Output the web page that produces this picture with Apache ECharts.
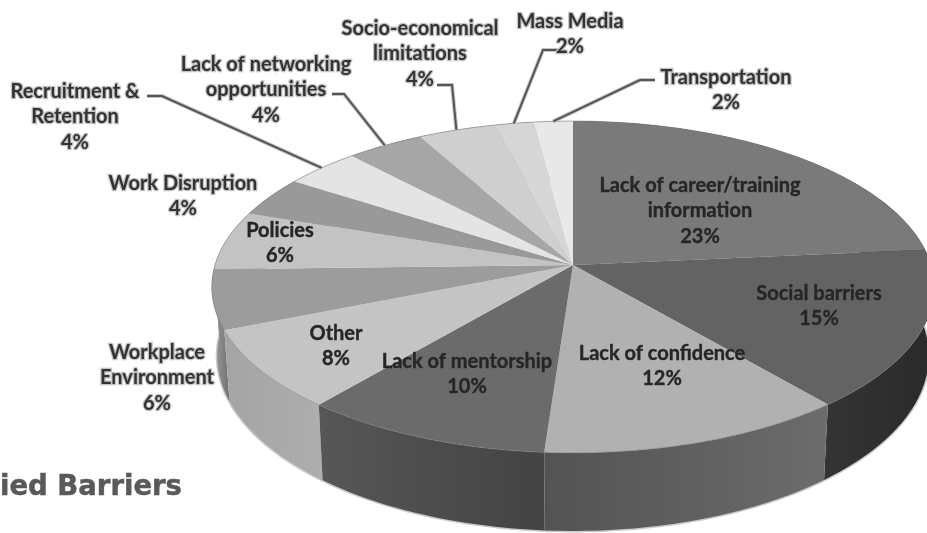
<!DOCTYPE html>
<html>
<head>
<meta charset="utf-8">
<style>html,body{margin:0;padding:0;background:#fff}#chart{width:927px;height:533px}</style>
<script src="https://cdn.jsdelivr.net/npm/echarts@6/dist/echarts.min.js"></script>
</head>
<body>
<div id="chart"></div>
<script>
// Slices clockwise from twelve o'clock
const categories = ['Lack of career/training\ninformation', 'Social barriers', 'Lack of confidence',
  'Lack of mentorship', 'Other', 'Workplace\nEnvironment', 'Policies', 'Work Disruption',
  'Recruitment &\nRetention', 'Lack of networking\nopportunities', 'Socio-economical\nlimitations',
  'Mass Media', 'Transportation'];
const percents = [23, 15, 12, 10, 8, 6, 6, 4, 4, 4, 4, 2, 2];

// Greys for the upper face and for the rim (left to right along the rim)
const faceGreys = ['#7a7a7a', '#636363', '#b1b1b1', '#6b6b6b', '#c4c4c4', '#9c9c9c', '#c3c3c3',
  '#999999', '#e4e4e4', '#a6a6a6', '#cfcfcf', '#d6d6d6', '#e8e8e8'];
const wallGreys = [['#3a3a3a', '#3a3a3a'], ['#2a2a2a', '#343434'], ['#6c6c6c', '#535353'],
  ['#575757', '#434343'], ['#a4a4a4', '#aeaeae'], ['#a0a0a0', '#707070'], ['#909090', '#909090'],
  ['#888888', '#888888'], ['#999999', '#999999'], ['#888888', '#888888'], ['#999999', '#999999'],
  ['#999999', '#999999'], ['#999999', '#999999']];

// Label placement: centre of each text block, dark text inside the pie, halo outside
const labelX = [700, 819, 662, 467, 336, 157, 280, 183, 75, 266, 420, 570, 726];
const labelY = [211, 306, 366, 374, 346, 378, 243, 196, 117, 90, 54, 34, 90];
const labelInside = [true, true, true, true, true, false, true, false, false, false, false, false, false];

// Leader lines: slice index, then label end and elbow
const leaderIndex = [8, 9, 10, 11, 12];
const leaderStart = [[147, 96], [332, 94], [437, 85], [558, 50], [655, 80]];
const leaderElbow = [[162, 96], [344, 94], [452, 85], [543, 50], [640, 80]];

// Perspective view of the disc
const CX = 573, CY = 265, RX = 358, RY = 163, PERSP = 0.1325, DEPTH = 67.7, BASE_NARROW = 0.985;
const total = percents.reduce((a, b) => a + b, 0);
const cumulative = percents.reduce((acc, v) => { acc.push(acc[acc.length - 1] + v); return acc; }, [0]);
const angleOf = p => p / total * 2 * Math.PI;

// Map a clock angle to the screen; `low` gives the lower rim
function project(theta, low) {
  const t = theta + (2 * Math.PI / 180) * (1 - Math.cos(theta));
  const u = Math.sin(t), v = Math.cos(t), w = 1 + PERSP * v;
  const x = RX * u / w, y = -RY * v / w;
  return low ? [CX + x * BASE_NARROW, CY + y + DEPTH / w] : [CX + x, CY + y];
}
function arc(a0, a1, low) {
  const n = Math.max(2, Math.ceil((a1 - a0) / 0.02));
  const pts = [];
  for (let k = 0; k <= n; k++) pts.push(project(a0 + (a1 - a0) * k / n, low));
  return pts;
}

const sliceData = percents.map((v, i) => [i, v]);

const renderWall = (params, api) => {
  const i = api.value(0);
  const a0 = angleOf(cumulative[i]), a1 = angleOf(cumulative[i + 1]);
  const upper = arc(a0, a1, false), lower = arc(a0, a1, true);
  const mid = (a0 + a1) / 2;
  const fore = -Math.cos(mid);
  const sunny = Math.sin(mid) < 0;
  const g = wallGreys[i];
  const stops = [{ offset: 0, color: g[sunny ? 0 : 1] }, { offset: 1, color: g[sunny ? 1 : 0] }];
  return {
    type: 'group',
    children: [
      { type: 'polyline', z2: 0, shape: { points: lower }, style: { fill: null, stroke: '#c9c9c9', lineWidth: 3 } },
      {
        type: 'polygon', z2: 10 + Math.round(fore * 10),
        shape: { points: upper.concat(lower.slice().reverse()) },
        style: { fill: new echarts.graphic.LinearGradient(0, 0, 1, 0, stops) }
      }
    ]
  };
};

const renderFace = (params, api) => {
  const i = api.value(0);
  const a0 = angleOf(cumulative[i]), a1 = angleOf(cumulative[i + 1]);
  const rim = arc(a0, a1, false);
  return {
    type: 'group',
    children: [
      { type: 'polygon', shape: { points: [[CX, CY]].concat(rim) }, style: { fill: faceGreys[i] } },
      { type: 'polyline', shape: { points: rim }, style: { fill: null, stroke: 'rgba(120,120,120,0.55)', lineWidth: 1 } }
    ]
  };
};

const renderLeader = (params, api) => {
  const n = api.value(0);
  const i = leaderIndex[n];
  const end = project(angleOf((cumulative[i] + cumulative[i + 1]) / 2), false);
  const points = [leaderStart[n], leaderElbow[n], end];
  return {
    type: 'group',
    children: [
      { type: 'polyline', shape: { points }, style: { fill: null, stroke: '#c4c4c4', lineWidth: 4 } },
      { type: 'polyline', shape: { points }, style: { fill: null, stroke: '#555555', lineWidth: 2 } }
    ]
  };
};

const renderLabel = (params, api) => {
  const i = api.value(0);
  const inside = labelInside[i];
  return {
    type: 'text',
    style: {
      text: categories[i] + '\n' + percents[i] + '%',
      x: labelX[i], y: labelY[i], align: 'center', verticalAlign: 'middle',
      fontFamily: 'Lato', fontWeight: 'bold', fontSize: 20, lineHeight: 25.5,
      fill: inside ? '#262626' : '#333333',
      stroke: inside ? '#2e2e2e' : '#c4c4c4', lineWidth: inside ? 0.4 : 2.5
    }
  };
};

const chart = echarts.init(document.getElementById('chart'), null, { renderer: 'canvas' });
chart.setOption({
  backgroundColor: '#ffffff',
  animation: false,
  tooltip: { show: false },
  title: {
    text: 'ied Barriers', left: 0, top: 474, padding: 0,
    textStyle: {
      fontFamily: 'DejaVu Sans', fontWeight: 'bold', fontSize: 27.5, color: '#58595b',
      textBorderColor: '#58595b', textBorderWidth: 0.5
    }
  },
  series: [
    { type: 'custom', coordinateSystem: 'none', silent: true, z: 1, data: sliceData, renderItem: renderWall },
    { type: 'custom', coordinateSystem: 'none', silent: true, z: 2, data: sliceData, renderItem: renderFace },
    { type: 'custom', coordinateSystem: 'none', silent: true, z: 3, data: leaderIndex.map((_, n) => [n]), renderItem: renderLeader },
    { type: 'custom', coordinateSystem: 'none', silent: true, z: 4, data: sliceData, renderItem: renderLabel }
  ]
});
</script>
</body>
</html>
